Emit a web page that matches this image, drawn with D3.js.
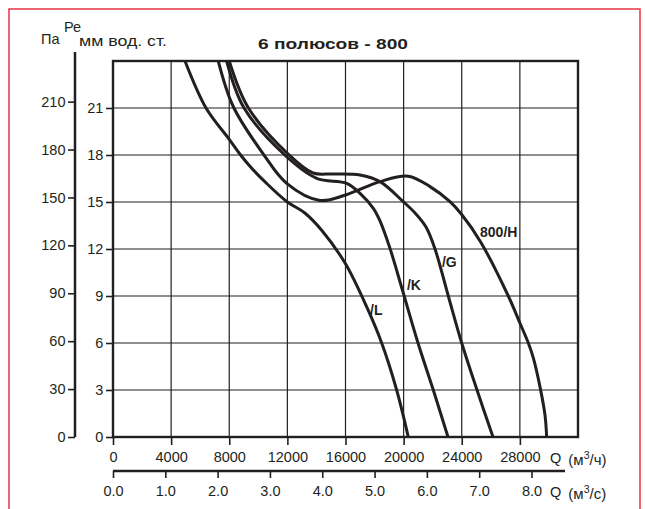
<html><head>
<script src="https://d3js.org/d3.v7.min.js"></script>
<style>
  body { margin: 0; background: #fff; }
  #chart text { font-family: "Liberation Sans", Arial, sans-serif; fill: #231f20; }
  .grid line { stroke: #231f20; stroke-width: 1.2; }
  .axis .domain { display: none; }
  .axis line { stroke: #231f20; stroke-width: 1.6; }
  .axis text { font-size: 14.5px; }
  .curve { fill: none; stroke: #231f20; stroke-width: 3; stroke-linejoin: round; }
  .curveLabel { font-size: 14px; font-weight: bold; }
</style>
</head>
<body>
<svg id="chart" width="645" height="509"></svg>

<script>
// tick labels
const paTicks = [0, 30, 60, 90, 120, 150, 180, 210];
const mmTicks = [0, 3, 6, 9, 12, 15, 18, 21];
const qhTicks = [0, 4000, 8000, 12000, 16000, 20000, 24000, 28000];
const qsTicks = [0, 1, 2, 3, 4, 5, 6, 7, 8];

// curves: Q (m3/h) and Pe (mm water)
const curveNames = ["800/H", "/G", "/K", "/L"];
const hQ = [7244, 8280, 10344, 11952, 14245, 16014, 18373, 20320, 21815, 23191, 23996, 25300, 27203, 28009, 28581, 28925, 29385, 29729, 29843];
const hP = [24, 21.08, 18.06, 16.19, 15.1, 15.45, 16.3, 16.65, 15.98, 15.02, 14.2, 12.45, 9.0, 7.26, 6.0, 5.05, 3.2, 1.4, 0];
const gQ = [8000, 9320, 12120, 13763, 15140, 16998, 18373, 19977, 20783, 21540, 22160, 23074, 23996, 25050, 26150];
const gP = [24, 21, 18, 16.85, 16.79, 16.72, 16.3, 15.02, 14.3, 13.4, 12.0, 9.0, 6.0, 3.0, 0];
const kQ = [7820, 9020, 11820, 14018, 16082, 16998, 17913, 18373, 19062, 19977, 20989, 22021, 23054];
const kP = [24, 21, 18, 16.51, 16.19, 15.55, 14.6, 13.8, 12.04, 9.19, 6.0, 3.06, 0];
const lQ = [4955, 6400, 8000, 8740, 9500, 10500, 12000, 13200, 14360, 15970, 17460, 18490, 19520, 20320];
const lP = [24, 21, 19.0, 18.05, 17.2, 16.25, 15.0, 14.3, 13.2, 11.1, 8.3, 6.0, 3.0, 0];

let svg = d3.select("#chart");

// red border
svg.append("rect")
  .attr("x", 9).attr("y", 9).attr("width", 631).attr("height", 520)
  .style("fill", "none").style("stroke", "#ec3542").style("stroke-width", 1.5);

// scales
let plot = { left: 113, right: 578, top: 61, bottom: 437 };
const xScale = d3.scaleLinear().domain([0, 32000]).range([plot.left, plot.right]);
const yScale = d3.scaleLinear().domain([0, 24]).range([plot.bottom, plot.top]);
const paScale = d3.scaleLinear().domain([0, 24 * 9.81]).range([plot.bottom, plot.top]);
const qsScale = d3.scaleLinear().domain([0, 32000 / 3600]).range([plot.left, plot.right]);

// gridlines
let grid = svg.append("g").attr("class", "grid");
qhTicks.slice(1).forEach(q => {
  grid.append("line")
    .attr("x1", xScale(q)).attr("x2", xScale(q))
    .attr("y1", plot.top).attr("y2", plot.bottom);
});
mmTicks.slice(1).forEach(p => {
  grid.append("line")
    .attr("x1", plot.left).attr("x2", plot.right)
    .attr("y1", yScale(p)).attr("y2", yScale(p));
});

// curves
svg.append("clipPath").attr("id", "clip")
  .append("rect")
  .attr("x", plot.left).attr("y", plot.top)
  .attr("width", plot.right - plot.left).attr("height", plot.bottom - plot.top);

let line = d3.line()
  .x(d => xScale(d[0]))
  .y(d => yScale(d[1]))
  .curve(d3.curveCatmullRom.alpha(0.5));

[[hQ, hP], [gQ, gP], [kQ, kP], [lQ, lP]].forEach(s => {
  svg.append("path")
    .datum(s[0].map((q, i) => [q, s[1][i]]))
    .attr("class", "curve")
    .attr("clip-path", "url(#clip)")
    .attr("d", line);
});

// frame
svg.append("rect")
  .attr("x", plot.left).attr("y", plot.top)
  .attr("width", plot.right - plot.left).attr("height", plot.bottom - plot.top)
  .style("fill", "none").style("stroke", "#231f20").style("stroke-width", 2.4);

// curve labels (at data coordinates)
const labelAt = [[25260, 12.77], [22640, 10.85], [20230, 9.38], [17690, 7.79]];
curveNames.forEach((name, i) => {
  svg.append("text")
    .attr("class", "curveLabel")
    .attr("x", xScale(labelAt[i][0]))
    .attr("y", yScale(labelAt[i][1]))
    .text(name);
});

// Pa axis
svg.append("line")
  .attr("x1", 75).attr("x2", 75)
  .attr("y1", plot.top - 9).attr("y2", plot.bottom)
  .style("stroke", "#231f20").style("stroke-width", 2.5);
svg.append("g")
  .attr("class", "axis")
  .attr("transform", "translate(75,0)")
  .call(d3.axisLeft(paScale).tickValues(paTicks).tickSize(7).tickPadding(2.5));

// mm axis
svg.append("g")
  .attr("class", "axis")
  .attr("transform", "translate(" + plot.left + ",0)")
  .call(d3.axisLeft(yScale).tickValues(mmTicks).tickSize(7).tickPadding(2.7));

// Q m3/h axis
svg.append("g")
  .attr("class", "axis")
  .attr("transform", "translate(0," + plot.bottom + ")")
  .call(d3.axisBottom(xScale).tickValues(qhTicks).tickSize(8).tickPadding(7).tickFormat(d3.format("d")));

// Q m3/s axis
let qsY = 471;
svg.append("line")
  .attr("x1", plot.left).attr("x2", plot.right - 13)
  .attr("y1", qsY).attr("y2", qsY)
  .style("stroke", "#231f20").style("stroke-width", 2.5);
svg.append("g")
  .attr("class", "axis")
  .attr("transform", "translate(0," + qsY + ")")
  .call(d3.axisBottom(qsScale).tickValues(qsTicks).tickSize(7).tickPadding(8).tickFormat(d3.format(".1f")));

// axis titles
function unitLabel(y, unit) {
  let t = svg.append("text").attr("x", 550).attr("y", y).style("font-size", "14.5px");
  t.append("tspan").text("Q ");
  t.append("tspan").attr("dx", 3).attr("dy", 2).style("font-size", "15px").text("(м");
  t.append("tspan").attr("dy", -6).style("font-size", "10.5px").text("3");
  t.append("tspan").attr("dy", 6).style("font-size", "15px").text(unit + ")");
}
unitLabel(463, "/ч");
unitLabel(497, "/с");

svg.append("text").attr("x", 41).attr("y", 44).style("font-size", "14.5px").text("Па");
svg.append("text").attr("x", 64).attr("y", 32).style("font-size", "14.5px").text("Ре");
svg.append("text").attr("x", 79).attr("y", 46).style("font-size", "14.5px")
  .attr("textLength", 88).attr("lengthAdjust", "spacingAndGlyphs").text("мм вод. ст.");

svg.append("text")
  .attr("x", 258).attr("y", 49)
  .style("font-size", "15.5px").style("font-weight", "bold")
  .attr("textLength", 150).attr("lengthAdjust", "spacingAndGlyphs")
  .text("6 полюсов - 800");
</script>
</body>
</html>
